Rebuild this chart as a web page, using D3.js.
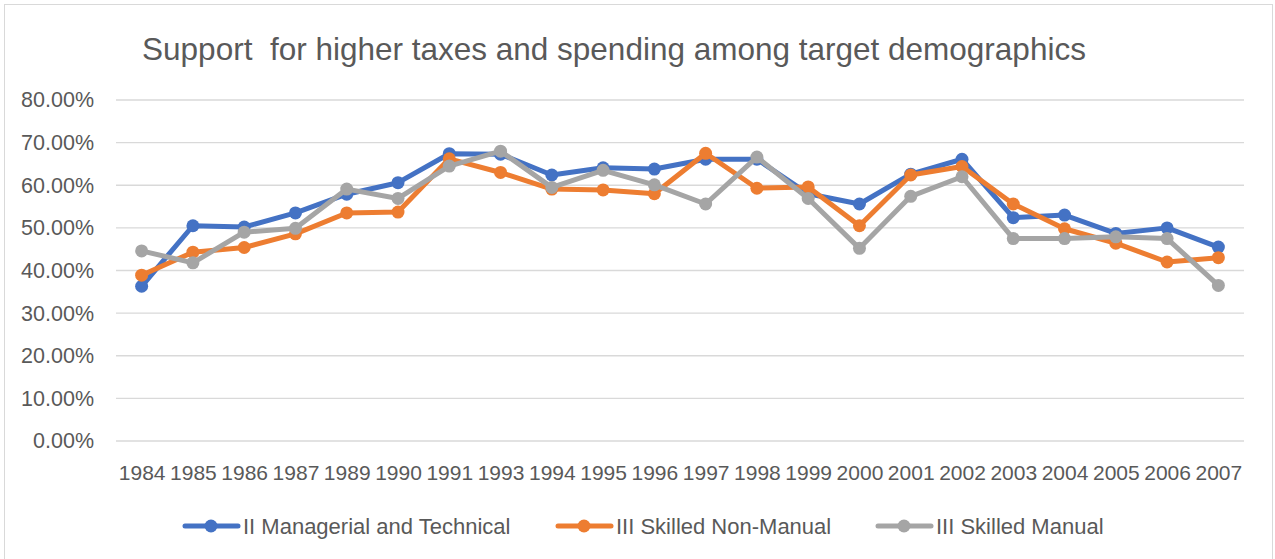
<!DOCTYPE html>
<html>
<head>
<meta charset="utf-8">
<script src="https://cdnjs.cloudflare.com/ajax/libs/d3/7.8.5/d3.min.js"></script>
<style>
  body { margin: 0; background: #fff; }
  text { font-family: "Liberation Sans", Arial, sans-serif; fill: #595959; }
</style>
</head>
<body>
<div id="chart"></div>
<script>
// categories (years) and series values
let years = ['1984','1985','1986','1987','1989','1990','1991','1993','1994','1995','1996',
             '1997','1998','1999','2000','2001','2002','2003','2004','2005','2006','2007'];

let managerial = [36.3, 50.5, 50.2, 53.5, 57.9, 60.6, 67.4, 67.3, 62.4, 64.1, 63.8,
                  66.1, 66.1, 58.0, 55.6, 62.6, 66.1, 52.4, 53.0, 48.7, 50.0, 45.5];
let nonManual  = [38.9, 44.3, 45.4, 48.6, 53.5, 53.7, 66.2, 63.0, 59.1, 58.9, 58.0,
                  67.5, 59.3, 59.6, 50.5, 62.4, 64.4, 55.6, 49.8, 46.4, 42.0, 43.0];
let manual     = [44.6, 41.8, 49.0, 49.9, 59.1, 56.9, 64.5, 68.0, 59.5, 63.5, 60.1,
                  55.6, 66.6, 56.9, 45.2, 57.4, 62.0, 47.5, 47.5, 47.9, 47.5, 36.5];

let seriesNames = ['II Managerial and Technical', 'III Skilled Non-Manual', 'III Skilled Manual'];
let seriesColors = ['#4472C4', '#ED7D31', '#A5A5A5'];
let yTicks = [0, 10, 20, 30, 40, 50, 60, 70, 80];

let series = [managerial, nonManual, manual].map(function(vals, i) {
    return {name: seriesNames[i], color: seriesColors[i], values: vals};
});

let width = 1275,
    height = 559;

let svg = d3.select('#chart').append('svg')
    .attr('width', width)
    .attr('height', height);

// chart border
svg.append('rect')
    .attr('x', 4.5).attr('y', 4.5)
    .attr('width', 1268).attr('height', 570)
    .attr('fill', 'none')
    .attr('stroke', '#D9D9D9')
    .attr('stroke-width', 1);

// title (keeps the double space of the original)
svg.append('text')
    .attr('x', 614)
    .attr('y', 60)
    .attr('text-anchor', 'middle')
    .style('font-size', '31.5px')
    .style('white-space', 'pre')
    .text('Support  for higher taxes and spending among target demographics');

//----------------------------------------
// scales
let x = d3.scalePoint()
    .domain(years)
    .range([116, 1244])
    .padding(0.5);

let y = d3.scaleLinear()
    .domain([0, 80])
    .range([441, 100]);

// gridlines
svg.append('g')
    .selectAll('line')
    .data(yTicks)
    .enter()
    .append('line')
    .attr('x1', 116)
    .attr('x2', 1244)
    .attr('y1', d => y(d))
    .attr('y2', d => y(d))
    .attr('stroke', '#D9D9D9')
    .attr('stroke-width', 1.3);

// y axis labels
let yAxis = svg.append('g')
    .attr('transform', 'translate(101,0)')
    .call(d3.axisLeft(y).tickValues(yTicks).tickSize(0).tickPadding(7)
        .tickFormat(d => d.toFixed(2) + '%'));
yAxis.select('.domain').remove();
yAxis.selectAll('text')
    .style('font-size', '21.5px')
    .attr('fill', '#595959');

// x axis labels
let xAxis = svg.append('g')
    .attr('transform', 'translate(0,441)')
    .call(d3.axisBottom(x).tickSize(0).tickPadding(24));
xAxis.select('.domain').remove();
xAxis.selectAll('text')
    .style('font-size', '21px')
    .attr('fill', '#595959');

//----------------------------------------
// lines and markers
let line = d3.line()
    .x((d, i) => x(years[i]))
    .y(d => y(d));

let groups = svg.selectAll('.series')
    .data(series)
    .enter()
    .append('g')
    .attr('class', 'series');

groups.append('path')
    .attr('d', d => line(d.values))
    .attr('fill', 'none')
    .attr('stroke', d => d.color)
    .attr('stroke-width', 5)
    .attr('stroke-linejoin', 'round')
    .attr('stroke-linecap', 'round');

groups.each(function(s) {
    d3.select(this).selectAll('circle')
        .data(s.values)
        .enter()
        .append('circle')
        .attr('cx', (d, i) => x(years[i]))
        .attr('cy', d => y(d))
        .attr('r', 6.5)
        .attr('fill', s.color);
});

//----------------------------------------
// legend
let legendX = [183, 556, 876];
let legend = svg.selectAll('.legend')
    .data(series)
    .enter()
    .append('g')
    .attr('class', 'legend')
    .attr('transform', (d, i) => 'translate(' + legendX[i] + ',526)');

legend.append('line')
    .attr('x1', 2).attr('x2', 55)
    .attr('stroke', d => d.color)
    .attr('stroke-width', 5)
    .attr('stroke-linecap', 'round');

legend.append('circle')
    .attr('cx', 28)
    .attr('r', 6.5)
    .attr('fill', d => d.color);

legend.append('text')
    .attr('x', 60)
    .attr('y', 8)
    .style('font-size', '22px')
    .text(d => d.name);
</script>
</body>
</html>
